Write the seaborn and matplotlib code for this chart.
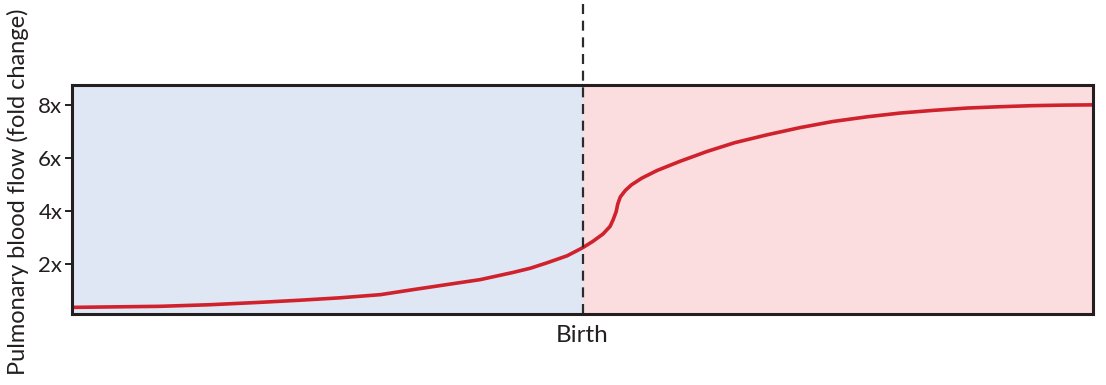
import matplotlib
matplotlib.use("Agg")
import matplotlib.pyplot as plt
import seaborn as sns
import pandas as pd

# Time axis (0-100, birth at 50) and pulmonary blood flow (fold change)
time_pts = [0, 4.3, 8.6, 13.5, 18.4, 22.3, 26.2, 30.2, 33.4, 36.7, 40.0,
            43.2, 44.9, 46.5, 48.5, 50.0, 51.0, 52.0, 52.7, 53.0, 53.3,
            53.45, 53.7, 54.2, 54.8, 55.8, 57.3, 59.5, 62.2, 64.9, 68.1,
            71.3, 74.5, 77.9, 81.1, 84.3, 87.7, 90.9, 94.1, 97.1, 100]
flow = [0.35, 0.37, 0.39, 0.45, 0.54, 0.62, 0.71, 0.83, 1.02, 1.21, 1.40,
        1.67, 1.83, 2.03, 2.30, 2.60, 2.84, 3.12, 3.41, 3.66, 3.97,
        4.25, 4.52, 4.77, 4.98, 5.23, 5.52, 5.86, 6.24, 6.57, 6.87,
        7.14, 7.37, 7.55, 7.69, 7.79, 7.88, 7.93, 7.97, 7.99, 8.0]
birth = 50
tick_vals = [2, 4, 6, 8]
tick_labels = ["2x", "4x", "6x", "8x"]

sns.set_style("white")
plt.rcParams["font.family"] = ["Lato", "DejaVu Sans"]

fig = plt.figure(figsize=(11.06, 3.85), dpi=100)
ax = fig.add_axes([72 / 1106, 71 / 385, 1021 / 1106, 229 / 385])

ax.axvspan(0, birth, color="#e0e7f4", lw=0, zorder=0)
ax.axvspan(birth, 100, color="#fbdde0", lw=0, zorder=0)

df = pd.DataFrame({"time": time_pts, "flow": flow})
sns.lineplot(data=df, x="time", y="flow", ax=ax, color="#d0222c",
             linewidth=2.6, zorder=3, sort=False)
ax.get_lines()[-1].set_solid_joinstyle("round")

ax.axvline(birth, ymin=0, ymax=1 + 85 / 229, color="#2b2b2b", lw=1.6,
           dashes=(4.5, 3), clip_on=False, zorder=4)

ax.set_xlim(0, 100)
ax.set_ylim(0.1, 8.75)
ax.set_yticks(tick_vals)
ax.set_yticklabels(tick_labels)
ax.set_xticks([birth])
ax.set_xticklabels(["Birth"])
ax.set_xlabel("")
ax.set_ylabel("")
ax.tick_params(axis="y", direction="out", length=5, width=1.4,
               color="#231f20", labelsize=16, pad=2, labelcolor="#231f20",
               left=True)
ax.tick_params(axis="x", length=0, labelsize=17.5, pad=8, labelcolor="#231f20")
for s in ax.spines.values():
    s.set_color("#231f20")
    s.set_linewidth(2.2)
    s.set_zorder(5)

fig.text(18 / 1106, (385 - 192) / 385, "Pulmonary blood flow (fold change)",
         rotation=90, ha="center", va="center", fontsize=17, color="#231f20")

fig.savefig("out.png", dpi=100, facecolor="white")
